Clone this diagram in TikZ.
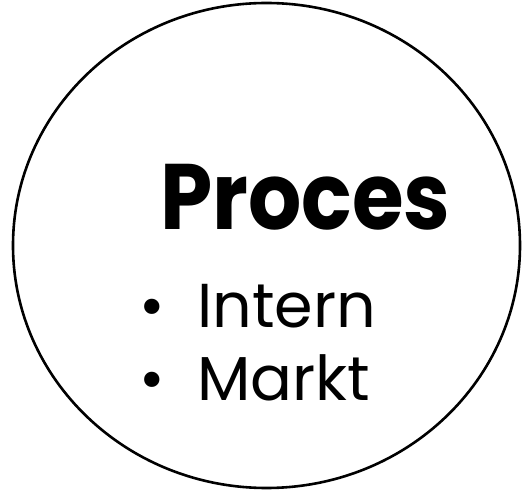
\documentclass[tikz,border=0pt]{standalone}
\usepackage{fontspec}
\setmainfont{Poppins}
\newfontfamily\titlefont[FakeStretch=0.9]{Poppins}
\usetikzlibrary{shapes.geometric}
\begin{document}
\begin{tikzpicture}[x=1pt,y=-1pt,
  lbl/.style={inner sep=0pt,anchor=base west},
  item/.style={lbl,font=\fontsize{62}{62}\selectfont}]
\useasboundingbox (0,0) rectangle (523,492);
\node[draw,line width=2.6pt,ellipse,minimum width=507,minimum height=485,inner sep=0pt] (circ) at (266.5,245.5) {};
\node[lbl,font=\titlefont\fontsize{93}{93}\selectfont\bfseries] (title) at (160,230) {Proces};
\node[item] (b1) at (139,327) {•};
\node[item] (i1) at (197,327) {Intern};
\node[item] (b2) at (139,400) {•};
\node[item] (i2) at (197,400) {Markt};
\end{tikzpicture}
\end{document}
